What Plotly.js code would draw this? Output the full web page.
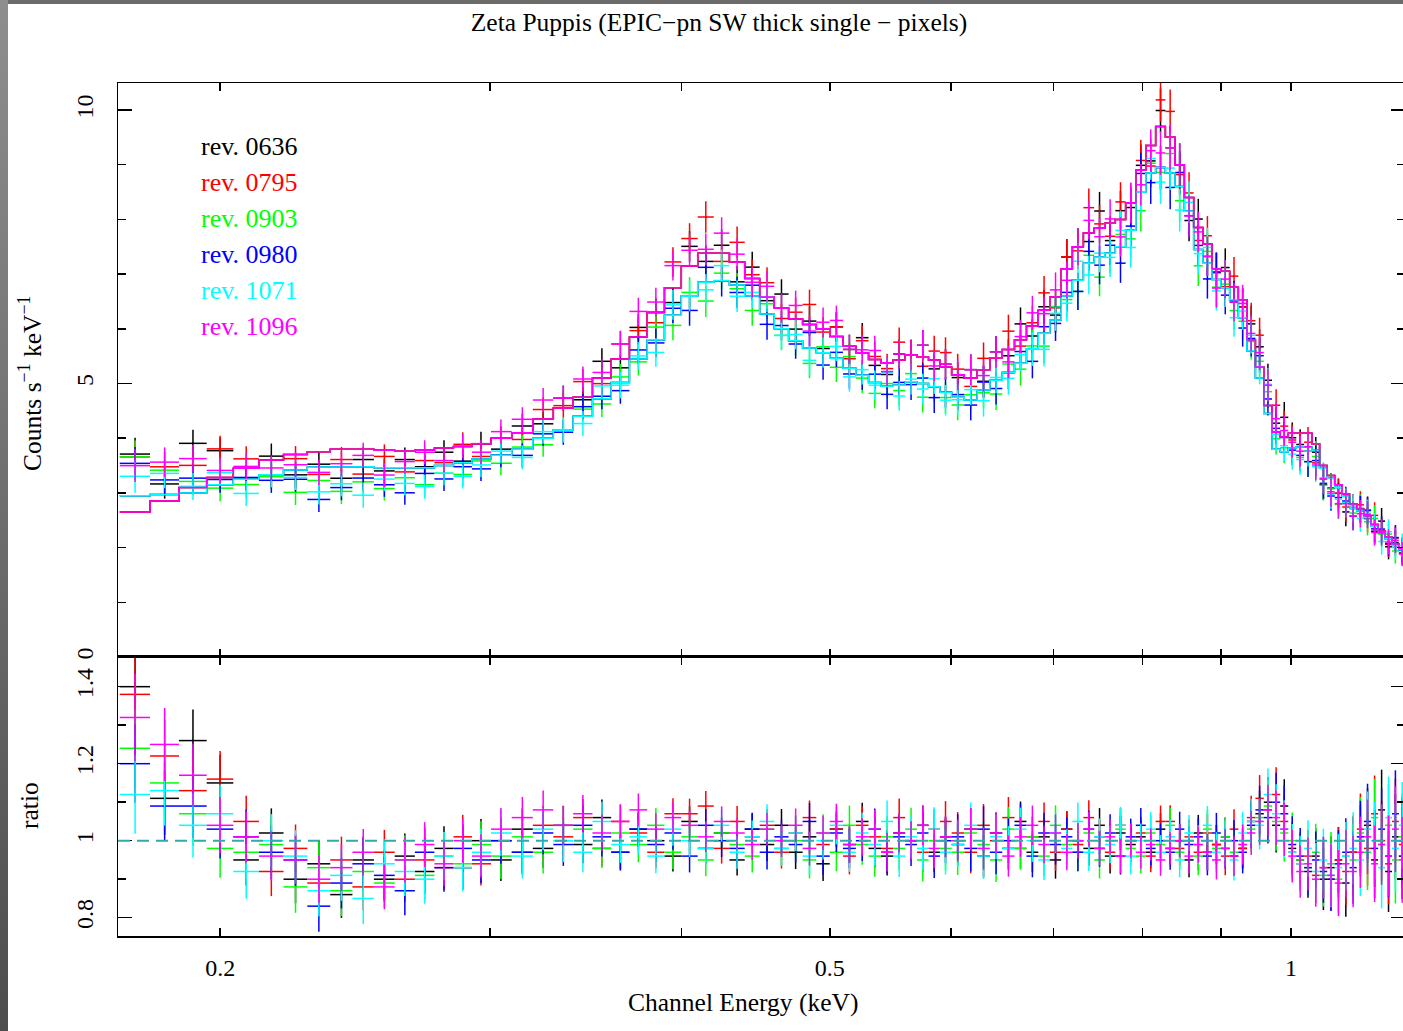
<!DOCTYPE html>
<html>
<head>
<meta charset="utf-8">
<script src="https://cdn.plot.ly/plotly-3.0.1.min.js"></script>
<style>
html,body{margin:0;padding:0;width:1403px;height:1031px;overflow:hidden;background:#fff;}
#plot{position:absolute;left:0;top:0;width:1406px;height:1031px;}
#frameTop{position:absolute;left:0;top:0;width:1403px;height:4px;background:#6b6b6b;z-index:5;}
#frameLeft{position:absolute;left:0;top:0;width:8px;height:1031px;background:linear-gradient(#8e8e8e,#4d4d4d);z-index:5;}
</style>
</head>
<body>
<div id="plot"></div>
<div id="frameTop"></div>
<div id="frameLeft"></div>
<script>
// ---------------- DATA ----------------
const titleText = 'Zeta Puppis (EPIC\u2212pn SW thick single \u2212 pixels)';
const seriesNames = ['rev. 0636','rev. 0795','rev. 0903','rev. 0980','rev. 1071','rev. 1096'];
const seriesColors = ['#000000','#ff0000','#00ff00','#0000ff','#00ffff','#ff00ff'];
// which model group each series follows (H = brighter group, L = fainter group)
const seriesGroup = ['H','H','L','L','L','H'];

// channel energies (keV), bin centres
const energy = [
 0.176,0.184,0.192,0.200,0.208,0.216,0.224,0.232,0.240,0.248,0.256,0.264,0.272,0.280,0.288,0.296,
 0.305,0.315,0.325,0.335,0.345,0.355,0.365,0.375,0.385,0.395,0.405,0.415,0.425,0.435,0.445,0.455,0.465,0.475,0.485,0.495,0.505,0.515,0.525,0.535,0.545,0.555,0.565,0.575,0.585,0.595,
 0.606,0.618,0.630,0.642,0.654,0.666,0.678,0.690,0.702,0.714,0.726,0.738,0.750,0.762,0.774,0.786,0.798,0.810,0.822,0.834,0.846,0.858,0.870,0.882,0.894,0.906,0.918,0.930,0.942,0.954,0.966,0.978,0.990,1.002,1.014,1.026,1.038,1.050,1.062,1.074,1.086,1.098,1.110,1.122,1.134,1.146,1.158,1.170,1.182
];

// folded model (counts s^-1 keV^-1) for the two groups
const modelH = [
 2.65,2.85,3.10,3.28,3.45,3.60,3.70,3.75,3.80,3.80,3.78,3.76,3.78,3.82,3.85,3.90,
 4.00,4.10,4.35,4.55,4.75,5.10,5.45,5.85,6.30,6.75,7.15,7.38,7.38,7.22,6.92,6.58,6.38,6.18,6.08,6.00,5.86,5.68,5.56,5.44,5.38,5.43,5.52,5.48,5.43,5.30,
 5.16,5.10,5.25,5.47,5.62,5.80,6.05,6.34,6.58,7.10,7.50,7.75,7.84,7.93,8.00,8.30,8.90,9.35,9.70,9.50,9.00,8.40,7.85,7.55,7.10,7.05,6.76,6.53,5.80,5.30,4.60,4.11,4.02,4.09,4.09,4.09,3.90,3.50,3.32,3.15,2.98,2.80,2.70,2.58,2.42,2.30,2.19,2.07,1.98
];
const modelL = [
 2.95,2.97,3.00,3.15,3.25,3.33,3.42,3.47,3.48,3.48,3.46,3.45,3.46,3.50,3.55,3.62,
 3.69,3.80,4.00,4.15,4.40,4.72,5.02,5.45,5.80,6.25,6.60,6.85,6.88,6.80,6.60,6.27,6.00,5.78,5.65,5.56,5.46,5.28,5.15,5.02,4.95,4.97,5.03,5.00,4.94,4.84,
 4.75,4.70,4.88,5.06,5.20,5.37,5.63,5.92,6.16,6.60,6.89,7.20,7.31,7.38,7.50,7.80,8.50,8.85,8.95,8.85,8.60,8.15,7.45,7.20,6.90,6.75,6.53,6.20,5.60,5.10,4.45,3.80,3.75,3.82,3.84,3.84,3.78,3.45,3.27,3.10,2.94,2.77,2.67,2.55,2.39,2.27,2.16,2.04,1.96
];

// 1-sigma count-rate errors
const rateErr = [
 0.30,0.27,0.25,0.24,0.23,0.23,0.23,0.23,0.23,0.23,0.22,0.22,0.22,0.22,0.22,0.22,
 0.22,0.22,0.22,0.23,0.23,0.24,0.24,0.25,0.26,0.27,0.28,0.29,0.29,0.29,0.28,0.28,0.27,0.27,0.27,0.27,0.27,0.27,0.27,0.27,0.27,0.27,0.28,0.28,0.28,0.28,
 0.28,0.28,0.29,0.29,0.30,0.30,0.31,0.31,0.32,0.33,0.34,0.35,0.35,0.36,0.36,0.37,0.38,0.39,0.40,0.40,0.39,0.38,0.37,0.36,0.36,0.35,0.35,0.34,0.33,0.32,0.30,0.29,0.28,0.28,0.28,0.28,0.28,0.28,0.27,0.27,0.26,0.26,0.25,0.25,0.24,0.24,0.23,0.23,0.22
];

// data / model ratios, one array per observation
const ratio0636 = [
 1.40,1.11,1.26,1.15,0.95,1.02,0.90,0.94,0.86,0.95,0.90,0.96,0.92,0.98,0.93,1.00,
 0.95,1.03,0.98,1.04,0.99,1.06,0.97,1.03,1.00,0.96,1.05,0.98,1.02,0.95,1.03,0.99,1.04,0.97,1.01,0.94,1.03,0.99,1.05,0.98,0.96,1.02,1.00,1.04,0.97,1.01,
 0.99,1.03,0.96,1.02,0.98,1.05,0.97,1.01,0.95,1.03,1.00,0.98,1.04,0.96,1.02,0.99,1.01,0.97,1.03,0.98,1.00,0.95,1.02,0.97,0.99,1.01,0.96,0.98,1.05,1.07,1.10,1.04,1.09,0.98,0.95,0.92,0.96,0.90,0.93,0.95,0.89,0.97,1.00,1.04,0.95,1.08,0.92,1.01,0.96
];
const ratio0795 = [
 1.38,1.22,1.13,1.16,1.05,0.92,0.98,0.89,0.95,0.88,0.97,0.90,0.95,0.93,1.01,0.94,
 1.00,0.97,1.04,1.01,1.06,0.98,1.05,1.02,0.97,1.07,1.07,1.09,0.98,1.05,1.01,1.04,0.97,1.02,1.06,0.99,1.03,0.96,1.04,1.01,0.98,1.06,1.00,0.97,1.03,1.05,
 1.02,0.97,1.04,1.00,1.06,0.98,1.01,1.05,0.97,1.03,0.99,1.06,1.01,0.97,1.04,1.00,1.02,0.96,1.05,1.05,0.98,1.01,0.97,1.02,0.99,0.96,1.03,0.98,1.06,1.11,1.08,1.12,1.05,0.97,0.94,0.96,0.91,0.93,0.90,0.95,0.92,0.97,1.03,0.98,1.07,1.00,0.94,1.05,0.99
];
const ratio0903 = [
 1.24,1.15,1.07,0.98,0.97,0.99,0.88,0.93,0.87,0.92,0.89,0.95,0.91,0.96,0.94,0.99,
 0.96,1.01,0.97,1.00,1.03,0.98,1.02,0.99,1.04,0.97,1.01,0.95,1.02,0.99,0.96,1.03,0.98,1.00,0.95,1.02,0.97,1.04,0.99,0.96,1.01,0.98,1.03,0.95,1.00,0.98,
 0.97,1.02,0.99,0.95,1.03,0.98,1.01,0.96,1.04,0.99,0.97,1.02,0.95,1.00,1.03,0.98,0.96,1.02,0.99,1.04,0.97,1.00,0.96,1.03,0.98,1.01,0.97,0.99,1.03,1.06,1.09,1.05,1.02,1.00,0.95,0.93,0.97,0.91,0.94,0.90,0.96,0.95,1.02,0.97,1.06,0.99,1.04,0.95,1.01
];
const ratio0980 = [
 1.20,1.09,1.09,1.03,1.01,0.97,0.95,0.83,0.89,0.94,0.91,0.87,0.97,0.93,0.98,0.95,
 1.00,0.97,1.02,0.99,1.04,1.01,0.97,1.03,0.99,1.02,0.96,1.04,1.00,0.98,1.03,0.97,1.01,0.99,1.05,0.96,1.02,0.98,1.00,1.03,0.97,1.01,0.99,1.02,0.96,1.00,
 1.01,0.98,1.03,0.97,1.00,1.04,0.96,1.02,0.99,1.01,0.97,1.03,0.98,1.02,0.96,1.01,1.04,0.98,1.00,0.97,1.03,0.99,1.01,0.96,1.02,0.98,1.00,0.97,1.04,1.08,1.06,1.10,1.07,0.99,0.96,0.93,0.95,0.92,0.90,0.94,0.97,0.93,1.01,1.05,0.98,1.03,0.96,1.07,1.00
];
const ratio1071 = [
 1.12,1.13,1.04,1.07,0.92,1.00,0.96,0.87,0.91,0.85,0.94,0.92,0.90,0.96,0.93,0.97,
 1.02,0.96,1.03,1.00,0.97,1.05,0.99,1.01,0.96,1.03,1.00,0.98,1.04,0.97,1.01,1.05,0.98,1.02,0.96,1.00,1.04,0.97,1.02,0.99,1.05,0.96,1.01,0.98,1.03,0.97,
 0.99,1.04,0.96,1.01,0.98,1.03,1.00,0.95,1.02,0.98,1.05,0.97,1.01,0.99,1.04,0.96,1.00,1.03,0.97,1.01,0.95,1.02,0.99,1.04,0.97,1.00,0.95,1.02,1.05,1.04,1.12,1.07,1.03,0.97,0.94,0.98,0.92,0.95,0.91,0.93,0.96,0.98,0.95,1.03,1.00,0.93,1.06,0.98,1.04
];
const ratio1096 = [
 1.32,1.25,1.17,1.04,1.01,0.96,0.95,0.90,0.93,0.97,0.88,0.95,0.99,0.94,1.00,0.96,
 1.03,1.06,1.08,1.04,1.07,1.02,1.05,1.08,1.03,1.06,1.04,1.01,1.05,1.02,0.99,1.03,1.00,1.04,0.98,1.02,1.05,0.99,1.01,1.03,0.97,1.02,1.00,1.04,0.98,1.01,
 1.00,1.03,0.98,1.02,0.96,1.01,1.04,0.99,1.02,0.97,1.00,1.03,0.98,1.01,0.96,1.00,0.97,0.99,0.95,0.98,1.00,0.96,0.99,0.97,0.95,0.98,0.96,0.99,1.02,1.05,1.08,1.06,1.03,0.96,0.92,0.94,0.90,0.93,0.91,0.89,0.94,0.92,0.97,1.01,0.94,0.99,0.96,1.03,0.95
];
const ratios = [ratio0636, ratio0795, ratio0903, ratio0980, ratio1071, ratio1096];

// axis ticks
const xMajorTicks = [0.2, 0.5, 1];
const xMajorLabels = ['0.2', '0.5', '1'];
const xMinorTicks = [0.3, 0.4, 0.6, 0.7, 0.8, 0.9];
const yTopTicks = [0, 5, 10];
const yTopLabels = ['0', '5', '10'];
const yTopMinor = [1, 2, 3, 4, 6, 7, 8, 9];
const yBotTicks = [0.8, 1, 1.2, 1.4];
const yBotLabels = ['0.8', '1', '1.2', '1.4'];
const yBotMinor = [0.9, 1.1, 1.3];
const xRange = [0.17154, 1.187];
const yTopRange = [0, 10.494];
const yBotRange = [0.7525, 1.4771];

// ---------------- BUILD ----------------
const FONT = '"Liberation Serif", "Times New Roman", Times, serif';
const n = energy.length;
const lo = [], hi = [];
for (let i = 0; i < n; i++) {
  const a = i > 0 ? (energy[i-1] + energy[i]) / 2 : energy[0] - (energy[1] - energy[0]) / 2;
  const b = i < n - 1 ? (energy[i] + energy[i+1]) / 2 : energy[i] + (energy[i] - energy[i-1]) / 2;
  lo.push(a); hi.push(b);
}
const exMinus = energy.map((e, i) => e - lo[i]);
const exPlus = energy.map((e, i) => hi[i] - e);

const traces = [];
for (let s = 0; s < seriesNames.length; s++) {
  const col = seriesColors[s];
  const model = seriesGroup[s] === 'H' ? modelH : modelL;
  const rate = ratios[s].map((r, i) => r * model[i]);
  const rErr = rateErr.map((e, i) => e / model[i]);
  traces.push({
    type: 'scatter', mode: 'markers', x: energy, y: rate, xaxis: 'x2', yaxis: 'y',
    marker: {size: 2, color: col},
    error_y: {type: 'data', array: rateErr, width: 0, thickness: 1.5, color: col},
    error_x: {type: 'data', symmetric: false, array: exPlus, arrayminus: exMinus, width: 0, thickness: 1.5, color: col},
    hoverinfo: 'skip', showlegend: false
  });
  const sx = [], sy = [];
  for (let i = 0; i < n; i++) { sx.push(lo[i], hi[i]); sy.push(model[i], model[i]); }
  traces.push({
    type: 'scatter', mode: 'lines', x: sx, y: sy, xaxis: 'x2', yaxis: 'y',
    line: {color: col, width: 1.5}, hoverinfo: 'skip', showlegend: false
  });
  traces.push({
    type: 'scatter', mode: 'markers', x: energy, y: ratios[s], xaxis: 'x', yaxis: 'y2',
    marker: {size: 2, color: col},
    error_y: {type: 'data', array: rErr, width: 0, thickness: 1.5, color: col},
    error_x: {type: 'data', symmetric: false, array: exPlus, arrayminus: exMinus, width: 0, thickness: 1.5, color: col},
    hoverinfo: 'skip', showlegend: false
  });
}

const tickFont = {family: FONT, size: 24, color: '#000'};
const labelFont = {family: FONT, size: 25.5, color: '#000'};
const baseX = {
  type: 'log', range: [Math.log10(xRange[0]), Math.log10(xRange[1])], domain: [0, 1],
  tickmode: 'array', tickvals: xMajorTicks, ticktext: xMajorLabels,
  ticks: 'inside', ticklen: 8, tickwidth: 1.5, tickcolor: '#000',
  minor: {tickmode: 'array', tickvals: xMinorTicks, ticks: 'inside', ticklen: 8, tickwidth: 1.5, tickcolor: '#000', showgrid: false},
  showline: true, linecolor: '#000', linewidth: 1.5, mirror: 'ticks',
  showgrid: false, zeroline: false, tickfont: tickFont, ticklabelstandoff: 10
};
const baseY = {
  tickmode: 'array', ticks: 'inside', ticklen: 14, tickwidth: 1.5, tickcolor: '#000',
  showline: true, linecolor: '#000', linewidth: 1.5, mirror: 'ticks',
  showgrid: false, zeroline: false, tickfont: tickFont, tickangle: -90, ticklabelstandoff: 14
};

const ann = [];
for (let s = 0; s < seriesNames.length; s++) {
  ann.push({
    text: seriesNames[s], xref: 'paper', yref: 'paper', x: 0.0629, y: 0.9261 - s * 0.0422,
    xanchor: 'left', yanchor: 'middle', showarrow: false,
    font: {family: FONT, size: 26, color: seriesColors[s]}
  });
}
ann.push({text: 'Channel Energy (keV)', xref: 'paper', yref: 'paper', x: 0.4856, y: -0.0785,
  xanchor: 'center', yanchor: 'middle', showarrow: false, font: labelFont});
ann.push({text: 'Counts s<sup>\u22121</sup> keV<sup>\u22121</sup>', xref: 'paper', yref: 'paper', x: -0.0684, y: 0.6483,
  xanchor: 'center', yanchor: 'middle', textangle: -90, showarrow: false, font: labelFont});
ann.push({text: 'ratio', xref: 'paper', yref: 'paper', x: -0.0684, y: 0.1536,
  xanchor: 'center', yanchor: 'middle', textangle: -90, showarrow: false, font: labelFont});

const layout = {
  width: 1406, height: 1031,
  margin: {l: 118, r: 1, t: 83, b: 95, pad: 0},
  paper_bgcolor: '#ffffff', plot_bgcolor: '#ffffff',
  showlegend: false, hovermode: false,
  title: {text: titleText, font: {family: FONT, size: 25.5, color: '#000'},
    xref: 'container', x: 719 / 1406, xanchor: 'center', yref: 'container', y: 1 - 22 / 1031, yanchor: 'middle'},
  xaxis: Object.assign({}, baseX, {anchor: 'y2'}),
  xaxis2: Object.assign({}, baseX, {anchor: 'y', matches: 'x', showticklabels: false}),
  yaxis: Object.assign({}, baseY, {domain: [0.3271, 1], anchor: 'x2', range: yTopRange,
    tickvals: yTopTicks, ticktext: yTopLabels,
    minor: {tickmode: 'array', tickvals: yTopMinor, ticks: 'inside', ticklen: 8, tickwidth: 1.5, tickcolor: '#000', showgrid: false}}),
  yaxis2: Object.assign({}, baseY, {domain: [0, 0.3271], anchor: 'x', range: yBotRange,
    tickvals: yBotTicks, ticktext: yBotLabels,
    minor: {tickmode: 'array', tickvals: yBotMinor, ticks: 'inside', ticklen: 8, tickwidth: 1.5, tickcolor: '#000', showgrid: false}}),
  shapes: [{type: 'line', xref: 'paper', x0: 0, x1: 1, yref: 'y2', y0: 1, y1: 1, layer: 'above',
    line: {color: '#33aaaa', width: 2, dash: '12px,7px'}}],
  annotations: ann
};

Plotly.newPlot('plot', traces, layout, {staticPlot: true, displayModeBar: false});
</script>
</body>
</html>
